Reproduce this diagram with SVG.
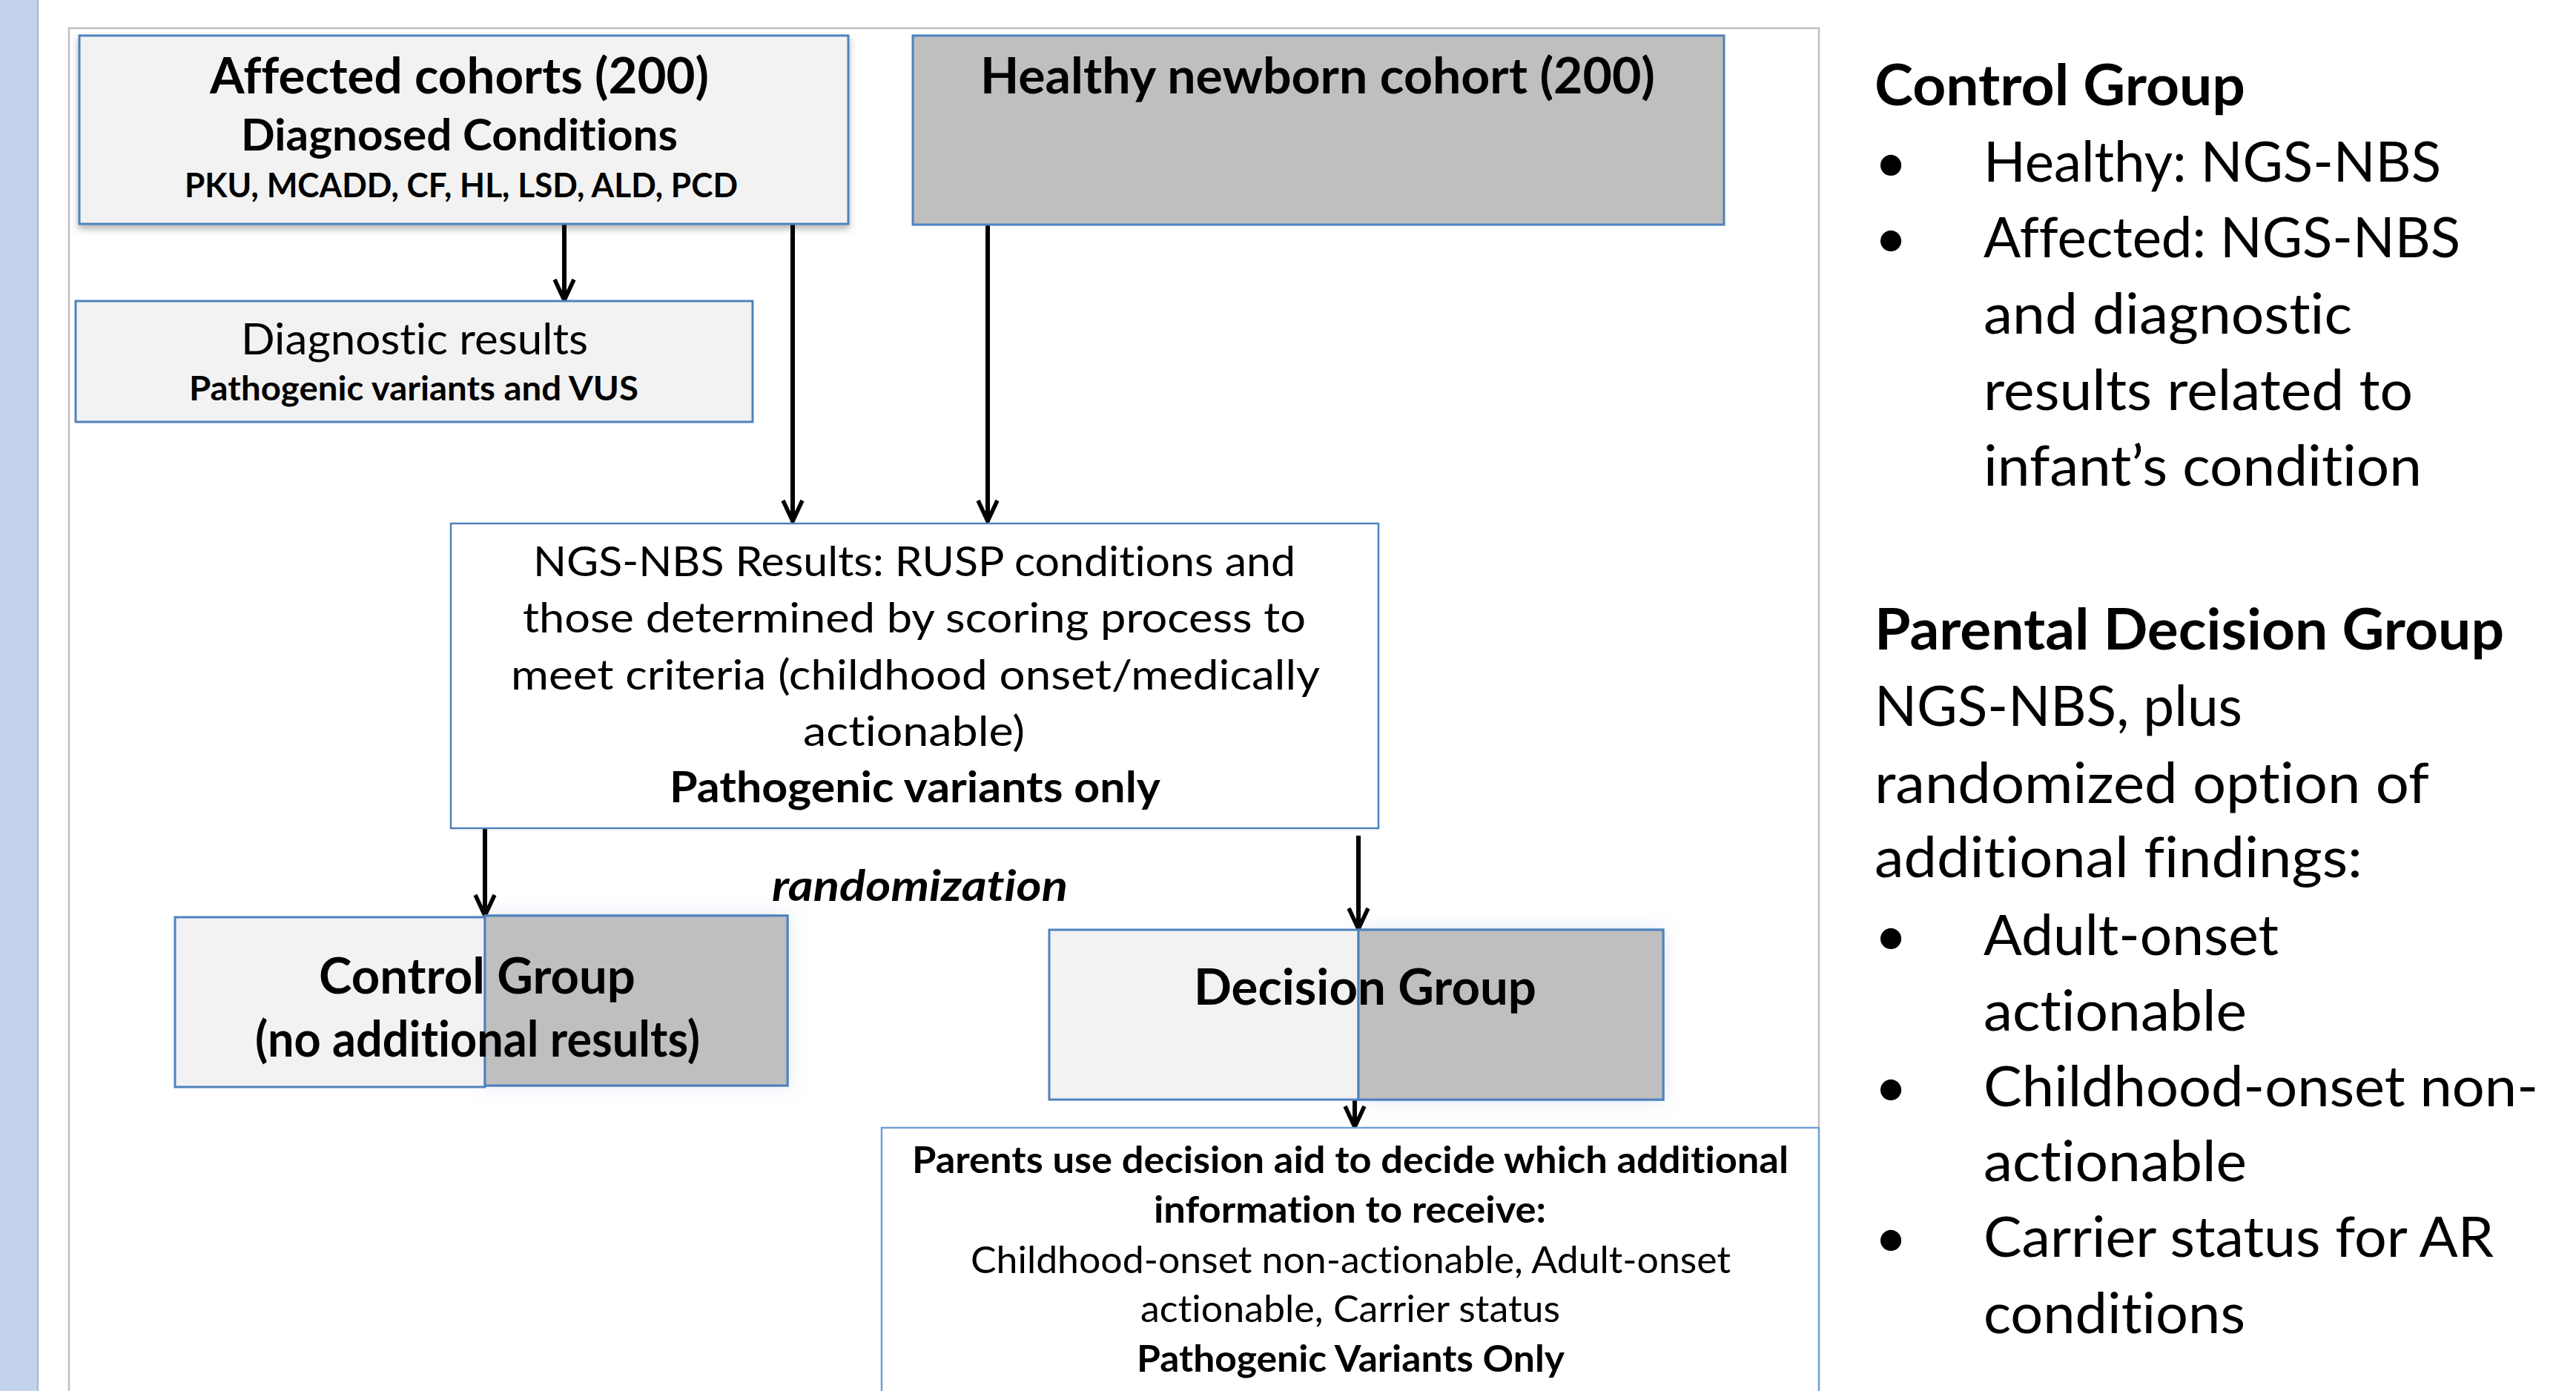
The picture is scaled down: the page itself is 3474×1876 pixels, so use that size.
<svg xmlns="http://www.w3.org/2000/svg" width="3474" height="1876" viewBox="0 0 3474 1876">
<style>
.t{font-family:Lato,"Liberation Sans",sans-serif;fill:#000;font-variant-ligatures:none;font-feature-settings:"liga" 0,"clig" 0}
.b{font-weight:700}
.i{font-style:italic}
.light{fill:#f2f2f2;stroke:#4f81bd;stroke-width:3}
.dark{fill:#bfbfbf;stroke:#4f81bd;stroke-width:3}
.white{fill:#ffffff;stroke:#4f81bd;stroke-width:2.5}
.white2{fill:#ffffff;stroke:#6fa0d8;stroke-width:2.5}
.arr{stroke:#000;stroke-width:6;fill:none;marker-end:url(#ah)}
</style>
<defs>
<marker id="ah" markerWidth="34" markerHeight="32" refX="31" refY="16" orient="auto" markerUnits="userSpaceOnUse" viewBox="0 0 34 32">
<path d="M3,3 L31,16 L3,29" fill="none" stroke="#000" stroke-width="5.5" stroke-linejoin="miter"/>
</marker>
<filter id="sh" x="-10%" y="-10%" width="120%" height="130%">
<feDropShadow dx="0" dy="5" stdDeviation="5" flood-color="#000" flood-opacity="0.3"/>
</filter>
<filter id="glow" x="-20%" y="-20%" width="140%" height="140%">
<feDropShadow dx="0" dy="0" stdDeviation="12" flood-color="#8a9fc8" flood-opacity="0.25"/>
</filter>
</defs>
<rect width="3474" height="1876" fill="#ffffff"/>
<rect x="0" y="0" width="52" height="1876" fill="#c3d3ec"/>
<line x1="51" y1="0" x2="51" y2="1876" stroke="#9fb6dd" stroke-width="2"/>
<path d="M93,1876 L93,38 L2453,38 L2453,1520" fill="none" stroke="#bfbfbf" stroke-width="2.5"/>

<g id="connectors">
<line class="arr" x1="761" y1="302" x2="761" y2="405"/>
<line class="arr" x1="1069" y1="302" x2="1069" y2="703"/>
<line class="arr" x1="1332" y1="303" x2="1332" y2="703"/>
<line class="arr" x1="654" y1="1117" x2="654" y2="1235"/>
<line class="arr" x1="1832" y1="1127" x2="1832" y2="1253"/>
<line class="arr" x1="1827" y1="1483" x2="1827" y2="1520"/>
</g>

<g id="affected">
<rect class="light" x="107" y="48" width="1037" height="254" filter="url(#sh)"/>
<text class="t b" x="283" y="126" font-size="67" textLength="673" lengthAdjust="spacingAndGlyphs">Affected cohorts (200)</text>
<text class="t b" x="325" y="203" font-size="60" textLength="589" lengthAdjust="spacingAndGlyphs">Diagnosed Conditions</text>
<text class="t b" x="249" y="266" font-size="46" textLength="746" lengthAdjust="spacingAndGlyphs">PKU, MCADD, CF, HL, LSD, ALD, PCD</text>
</g>

<g id="healthy">
<rect class="dark" x="1231" y="48" width="1094" height="255"/>
<text class="t b" x="1322" y="126" font-size="67" textLength="910" lengthAdjust="spacingAndGlyphs">Healthy newborn cohort (200)</text>
</g>

<g id="diagnostic">
<rect class="light" x="102" y="406" width="913" height="163"/>
<text class="t" x="325" y="478" font-size="59" textLength="468" lengthAdjust="spacingAndGlyphs">Diagnostic results</text>
<text class="t b" x="255" y="540" font-size="46" textLength="606" lengthAdjust="spacingAndGlyphs">Pathogenic variants and VUS</text>
</g>

<g id="ngs">
<rect class="white" x="608" y="706" width="1251" height="411"/>
<text class="t" x="719" y="777" font-size="57" textLength="1028" lengthAdjust="spacingAndGlyphs">NGS-NBS Results: RUSP conditions and</text>
<text class="t" x="705" y="853" font-size="57" textLength="1056" lengthAdjust="spacingAndGlyphs">those determined by scoring process to</text>
<text class="t" x="689" y="930" font-size="57" textLength="1091" lengthAdjust="spacingAndGlyphs">meet criteria (childhood onset/medically</text>
<text class="t" x="1083" y="1006" font-size="57" textLength="299" lengthAdjust="spacingAndGlyphs">actionable)</text>
<text class="t b" x="903" y="1082" font-size="57" textLength="662" lengthAdjust="spacingAndGlyphs">Pathogenic variants only</text>
</g>

<g id="randomization-label">
<text class="t b i" x="1041" y="1215" font-size="58" textLength="399" lengthAdjust="spacingAndGlyphs">randomization</text>
</g>

<g id="control">
<rect class="dark" x="654" y="1235" width="408" height="229" filter="url(#glow)"/>
<rect class="light" x="236" y="1237" width="418" height="229"/>
<rect x="654" y="1235" width="408" height="229" fill="#bfbfbf" stroke="#4f81bd" stroke-width="3"/>
<text class="t b" x="430" y="1340" font-size="67" textLength="427" lengthAdjust="spacingAndGlyphs">Control Group</text>
<text class="t b" x="344" y="1425" font-size="67" textLength="600" lengthAdjust="spacingAndGlyphs">(no additional results)</text>
</g>

<g id="decision">
<rect class="dark" x="1832" y="1254" width="411" height="229" filter="url(#glow)"/>
<rect class="light" x="1415" y="1254" width="417" height="229"/>
<rect x="1832" y="1254" width="411" height="229" fill="#bfbfbf" stroke="#4f81bd" stroke-width="3"/>
<text class="t b" x="1610" y="1355" font-size="67" textLength="462" lengthAdjust="spacingAndGlyphs">Decision Group</text>
</g>

<g id="parents">
<rect class="white2" x="1189" y="1521" width="1264" height="400"/>
<text class="t b" x="1230" y="1582" font-size="50" textLength="1182" lengthAdjust="spacingAndGlyphs">Parents use decision aid to decide which additional</text>
<text class="t b" x="1556" y="1649" font-size="50" textLength="529" lengthAdjust="spacingAndGlyphs">information to receive:</text>
<text class="t" x="1309" y="1717" font-size="50" textLength="1025" lengthAdjust="spacingAndGlyphs">Childhood-onset non-actionable, Adult-onset</text>
<text class="t" x="1538" y="1783" font-size="50" textLength="566" lengthAdjust="spacingAndGlyphs">actionable, Carrier status</text>
<text class="t b" x="1533" y="1850" font-size="50" textLength="577" lengthAdjust="spacingAndGlyphs">Pathogenic Variants Only</text>
</g>

<g id="legend" class="t" font-size="76">
<text class="b" x="2528" y="142" textLength="500" lengthAdjust="spacingAndGlyphs">Control Group</text>
<text x="2528" y="245">•</text>
<text x="2675" y="245" textLength="617" lengthAdjust="spacingAndGlyphs">Healthy: NGS-NBS</text>
<text x="2528" y="347">•</text>
<text x="2675" y="347" textLength="643" lengthAdjust="spacingAndGlyphs">Affected: NGS-NBS</text>
<text x="2675" y="450" textLength="497" lengthAdjust="spacingAndGlyphs">and diagnostic</text>
<text x="2675" y="553" textLength="579" lengthAdjust="spacingAndGlyphs">results related to</text>
<text x="2675" y="655" textLength="591" lengthAdjust="spacingAndGlyphs">infant’s condition</text>
<text class="b" x="2528" y="876" textLength="849" lengthAdjust="spacingAndGlyphs">Parental Decision Group</text>
<text x="2528" y="979" textLength="496" lengthAdjust="spacingAndGlyphs">NGS-NBS, plus</text>
<text x="2528" y="1083" textLength="748" lengthAdjust="spacingAndGlyphs">randomized option of</text>
<text x="2528" y="1183" textLength="658" lengthAdjust="spacingAndGlyphs">additional findings:</text>
<text x="2528" y="1288">•</text>
<text x="2675" y="1288" textLength="398" lengthAdjust="spacingAndGlyphs">Adult-onset</text>
<text x="2675" y="1390" textLength="355" lengthAdjust="spacingAndGlyphs">actionable</text>
<text x="2528" y="1492">•</text>
<text x="2675" y="1492" textLength="748" lengthAdjust="spacingAndGlyphs">Childhood-onset non-</text>
<text x="2675" y="1593" textLength="355" lengthAdjust="spacingAndGlyphs">actionable</text>
<text x="2528" y="1695">•</text>
<text x="2675" y="1695" textLength="688" lengthAdjust="spacingAndGlyphs">Carrier status for AR</text>
<text x="2675" y="1798" textLength="353" lengthAdjust="spacingAndGlyphs">conditions</text>
</g>
</svg>
